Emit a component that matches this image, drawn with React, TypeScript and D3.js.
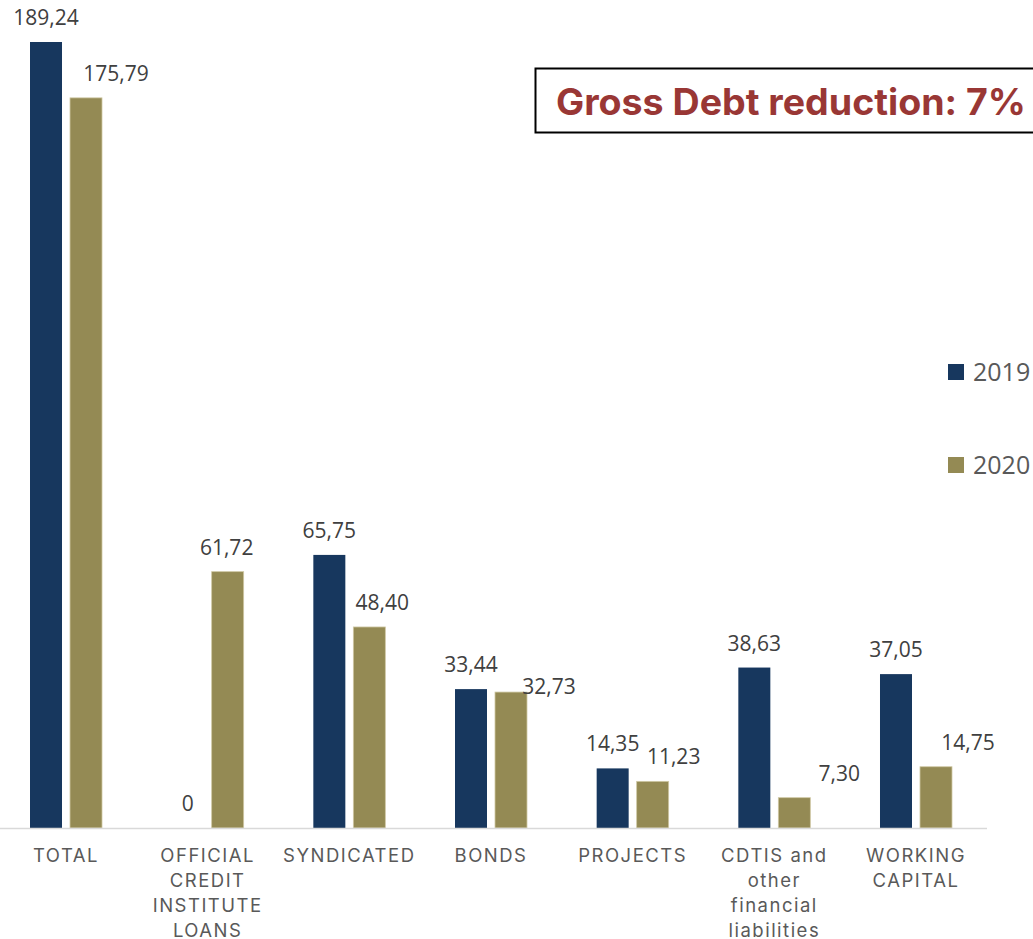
import React from "react";
import * as d3 from "d3";

const categories = [
  ["TOTAL"],
  ["OFFICIAL", "CREDIT", "INSTITUTE", "LOANS"],
  ["SYNDICATED"],
  ["BONDS"],
  ["PROJECTS"],
  ["CDTIS and", "other", "financial", "liabilities"],
  ["WORKING", "CAPITAL"],
];
const categoryKeys = categories.map((c) => c.join(" "));
const seriesNames = ["2019", "2020"];
const values2019 = [189.24, 0, 65.75, 33.44, 14.35, 38.63, 37.05];
const values2020 = [175.79, 61.72, 48.4, 32.73, 11.23, 7.3, 14.75];
const seriesValues = [values2019, values2020];
const colors = ["#17375e", "#948a54"];
const titleText = "Gross Debt reduction: 7%";

// label nudges (layout only) for the 2020 series, as placed in the original
const labelDx2020 = [30, -1, 13, 38, 21, 45, 32];
const labelDy2020 = [0, 0, 0, 19, 0, 0, 0];

const W = 1033;
const H = 939;
const baseY = 828;

const locale = d3.formatLocale({ decimal: ",", thousands: ".", grouping: [3], currency: ["", "€"] });
const fmt = (v: number) => (v === 0 ? "0" : locale.format(".2f")(v));

export default function App() {
  const x0 = d3.scaleBand<string>().domain(categoryKeys).range([-4.83, 986.83]).padding(0);
  const bw = x0.bandwidth();
  const x1 = d3
    .scaleBand<string>()
    .domain(seriesNames)
    .range([bw / 2 - 36, bw / 2 + 36])
    .paddingInner(0.2)
    .paddingOuter(0);
  const y = d3.scaleLinear().domain([0, 189.24]).range([baseY, 42]);

  const labelFont = "'Open Sans', 'Liberation Sans', sans-serif";
  const catFont = "Inter, 'Noto Sans', sans-serif";

  return (
    <svg
      width={W}
      height={H}
      viewBox={`0 0 ${W} ${H}`}
      style={{ position: "absolute", left: 0, top: 0, background: "#fff" }}
    >
      {/* bars */}
      {categoryKeys.map((cat, i) => (
        <g key={cat} transform={`translate(${x0(cat)},0)`}>
          {seriesNames.map((s, si) => {
            const v = seriesValues[si][i];
            const bx = x1(s)!;
            const bwid = x1.bandwidth();
            return v > 0 ? (
              <rect
                key={s}
                x={bx}
                y={y(v)}
                width={bwid}
                height={baseY - y(v)}
                fill={colors[si]}
                stroke={si === 1 ? "#cfc8a4" : "none"}
                strokeWidth={si === 1 ? 0.8 : 0}
              />
            ) : null;
          })}
        </g>
      ))}

      {/* axis line */}
      <line x1={0} x2={987} y1={baseY + 0.5} y2={baseY + 0.5} stroke="#d9d9d9" strokeWidth={1.5} />

      {/* data labels */}
      {categoryKeys.map((cat, i) =>
        seriesNames.map((s, si) => {
          const v = seriesValues[si][i];
          const cx = x0(cat)! + x1(s)! + x1.bandwidth() / 2 + (si === 1 ? labelDx2020[i] : 0);
          const by = y(v) - 17 + (si === 1 ? labelDy2020[i] : 0);
          return (
            <text
              key={cat + s}
              x={cx}
              y={by}
              textAnchor="middle"
              fontFamily={labelFont}
              fontSize={21}
              fill="#404040"
            >
              {fmt(v)}
            </text>
          );
        })
      )}

      {/* category labels */}
      {categories.map((lines, i) => (
        <text
          key={categoryKeys[i]}
          x={x0(categoryKeys[i])! + bw / 2}
          y={862}
          textAnchor="middle"
          fontFamily={catFont}
          fontSize={18.5}
          letterSpacing={1.5}
          fill="#595959"
        >
          {lines.map((ln, li) => (
            <tspan key={li} x={x0(categoryKeys[i])! + bw / 2} dy={li === 0 ? 0 : 25}>
              {ln}
            </tspan>
          ))}
        </text>
      ))}

      {/* legend */}
      {seriesNames.map((s, si) => (
        <g key={s} transform={`translate(948,${364 + si * 93})`}>
          <rect x={0} y={0} width={16} height={16} fill={colors[si]} />
          <text x={25} y={16.5} fontFamily={labelFont} fontSize={25} fill="#595959">
            {s}
          </text>
        </g>
      ))}

      {/* title box */}
      <rect x={535.5} y={68.5} width={520} height={64} fill="#fff" stroke="#000" strokeWidth={2} />
      <text
        x={556}
        y={115}
        fontFamily={catFont}
        fontWeight={700}
        fontSize={36.5}
        fill="#993735"
        textLength={470}
        lengthAdjust="spacingAndGlyphs"
      >
        {titleText}
      </text>
    </svg>
  );
}
